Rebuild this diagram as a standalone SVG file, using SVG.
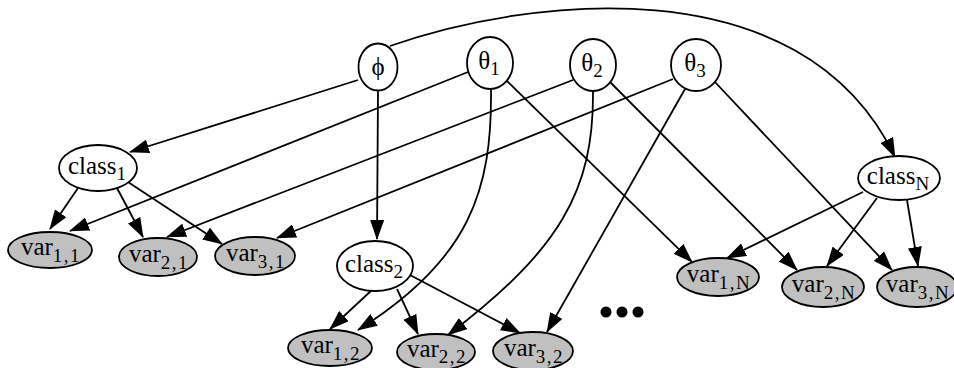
<svg xmlns="http://www.w3.org/2000/svg" width="954" height="368" viewBox="0 0 954 368">
<style>
.e{fill:none;stroke:#000;stroke-width:1.8;marker-end:url(#ah)}
.n ellipse{fill:#fff;stroke:#000;stroke-width:1.8}
.v ellipse{fill:#c0c0c0;stroke:#000;stroke-width:1.8}
text{font-family:"Liberation Serif","DejaVu Serif",serif;font-size:25px;text-anchor:middle;fill:#000}
.s{font-size:19px}
.v .s{letter-spacing:1.5px}
</style>
<defs>
<marker id="ah" viewBox="0 0 20 14" refX="19" refY="7" markerWidth="20" markerHeight="14" orient="auto" markerUnits="userSpaceOnUse">
<path d="M0,0 L20,7 L0,14 Z" fill="#000"/>
</marker>
</defs>
<g id="edges">
<path class="e" d="M358,80 L130,152"/>
<path class="e" d="M378,91 L377,239"/>
<path class="e" d="M390,46 C520,0 800,-40 895,157"/>
<path class="e" d="M468,72 L70,231"/>
<path class="e" d="M573,80 L167,237"/>
<path class="e" d="M673,79 L277,238"/>
<path class="e" d="M78,188 L50,229"/>
<path class="e" d="M117,188 L143,237"/>
<path class="e" d="M128,182 L222,244"/>
<path class="e" d="M373,289 L330,329"/>
<path class="e" d="M397,289 L418,334"/>
<path class="e" d="M410,275 L520,333"/>
<path class="e" d="M491,90 C492,190 470,260 358,330"/>
<path class="e" d="M593,91 C594,190 560,250 448,335"/>
<path class="e" d="M685,89 L547,332"/>
<path class="e" d="M505,79 L692,262"/>
<path class="e" d="M610,82 L797,270"/>
<path class="e" d="M714,81 L892,270"/>
<path class="e" d="M863,192 L727,258"/>
<path class="e" d="M877,198 L827,266"/>
<path class="e" d="M907,200 L918,266"/>
</g>
<g id="phi" class="n"><ellipse cx="378" cy="67" rx="19.5" ry="23.5"/><text x="378" y="75">ϕ</text></g>
<g id="theta1" class="n"><ellipse cx="490" cy="63" rx="23" ry="26"/><text x="489" y="69">θ<tspan class="s" dy="6">1</tspan></text></g>
<g id="theta2" class="n"><ellipse cx="593" cy="65" rx="23" ry="26"/><text x="592" y="71">θ<tspan class="s" dy="6">2</tspan></text></g>
<g id="theta3" class="n"><ellipse cx="696" cy="65" rx="25" ry="26"/><text x="695" y="71">θ<tspan class="s" dy="6">3</tspan></text></g>
<g id="class1" class="n"><ellipse cx="98" cy="168" rx="39" ry="23"/><text x="97" y="174">class<tspan class="s" dy="6">1</tspan></text></g>
<g id="class2" class="n"><ellipse cx="375" cy="266" rx="38" ry="25"/><text x="374" y="272">class<tspan class="s" dy="6">2</tspan></text></g>
<g id="classN" class="n"><ellipse cx="899" cy="178" rx="41" ry="22"/><text x="898" y="184">class<tspan class="s" dy="6">N</tspan></text></g>
<g id="var11" class="v"><ellipse cx="50" cy="250" rx="42" ry="18"/><text x="51" y="255">var<tspan class="s" dy="7">1,1</tspan></text></g>
<g id="var21" class="v"><ellipse cx="158" cy="257" rx="39" ry="19"/><text x="159" y="262">var<tspan class="s" dy="7">2,1</tspan></text></g>
<g id="var31" class="v"><ellipse cx="255" cy="256" rx="40" ry="19"/><text x="256" y="261">var<tspan class="s" dy="7">3,1</tspan></text></g>
<g id="var12" class="v"><ellipse cx="330" cy="348" rx="42" ry="18"/><text x="331" y="353">var<tspan class="s" dy="7">1,2</tspan></text></g>
<g id="var22" class="v"><ellipse cx="436" cy="352" rx="39" ry="18"/><text x="437" y="357">var<tspan class="s" dy="6">2,2</tspan></text></g>
<g id="var32" class="v"><ellipse cx="533" cy="351" rx="40" ry="19"/><text x="534" y="356">var<tspan class="s" dy="7">3,2</tspan></text></g>
<g id="var1N" class="v"><ellipse cx="718" cy="277" rx="41" ry="19"/><text x="719" y="282">var<tspan class="s" dy="7">1,N</tspan></text></g>
<g id="var2N" class="v"><ellipse cx="823" cy="287" rx="41" ry="20"/><text x="824" y="292">var<tspan class="s" dy="7">2,N</tspan></text></g>
<g id="var3N" class="v"><ellipse cx="917" cy="287" rx="40" ry="20"/><text x="918" y="292">var<tspan class="s" dy="7">3,N</tspan></text></g>
<g id="dots"><circle cx="606" cy="312" r="5.5"/><circle cx="622" cy="312" r="5.5"/><circle cx="638" cy="312" r="5.5"/></g>
</svg>
